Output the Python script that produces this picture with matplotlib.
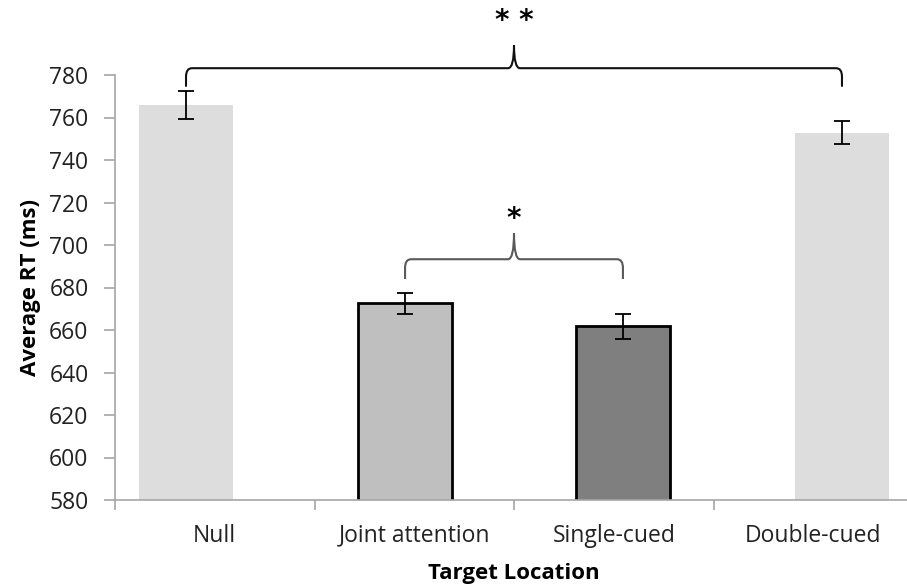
import matplotlib.pyplot as plt
import numpy as np
from matplotlib.path import Path
from matplotlib.patches import PathPatch

# Mean RT per target location, with standard error
categories = ['Null', 'Joint attention', 'Single-cued', 'Double-cued']
mean_rt = [766, 672.5, 661.8, 752.8]
sem_rt = [6.5, 5.0, 5.8, 5.5]
bar_colors = ['#dddddd', '#bfbfbf', '#7f7f7f', '#dddddd']
bar_edges = ['none', 'black', 'black', 'none']
bar_offsets = [-0.144, -0.046, 0.046, 0.144]   # bars sit slightly off-centre

plt.rcParams['font.family'] = ['Open Sans', 'DejaVu Sans']

fig = plt.figure(figsize=(9.07, 5.86), dpi=100)
ax = fig.add_axes([115 / 907, 86 / 586, 798 / 907, 425 / 586])

x = np.arange(len(categories)) + np.array(bar_offsets)
ax.bar(x, mean_rt, width=0.475, color=bar_colors, edgecolor=bar_edges,
       linewidth=2, bottom=0, zorder=2)
ax.errorbar(x, mean_rt, yerr=sem_rt, fmt='none', ecolor='black',
            elinewidth=1.3, capsize=6, capthick=1.3, zorder=3)

ax.set_xlim(-0.5, 3.5)
ax.set_ylim(580, 780)
ax.set_yticks(np.arange(580, 781, 20))
ax.set_xticks(np.arange(len(categories)))
ax.set_xticklabels(categories)
ax.set_xticks([-0.5, 0.5, 1.5, 2.5], minor=True)

for s in ['top', 'right']:
    ax.spines[s].set_visible(False)
for s in ['left', 'bottom']:
    ax.spines[s].set_color('#a6a6a6')
    ax.spines[s].set_linewidth(1.2)

ax.tick_params(axis='y', colors='#a6a6a6', length=8, width=1.2, pad=11,
               labelcolor='#222222', labelsize=16.5)
ax.tick_params(axis='x', which='major', length=0, pad=17,
               labelcolor='#222222', labelsize=16.5)
ax.tick_params(axis='x', which='minor', colors='#a6a6a6', length=7, width=1.2)

ax.set_ylabel('Average RT (ms)', fontsize=16, fontweight='bold', labelpad=6)
ax.set_xlabel('Target Location', fontsize=16, fontweight='bold', labelpad=11)


def brace(ax, x0, x1, y, ylow, ytip, color, rx=0.03, ry=4):
    xm = (x0 + x1) / 2
    verts = [(x0, ylow), (x0, y - ry), (x0, y), (x0 + rx, y),
             (xm - rx, y), (xm, y), (xm, ytip),
             (xm, y), (xm + rx, y),
             (x1 - rx, y), (x1, y), (x1, y - ry), (x1, ylow)]
    codes = [Path.MOVETO, Path.LINETO, Path.CURVE3, Path.CURVE3,
             Path.LINETO, Path.CURVE3, Path.CURVE3,
             Path.CURVE3, Path.CURVE3,
             Path.LINETO, Path.CURVE3, Path.CURVE3, Path.LINETO]
    ax.add_patch(PathPatch(Path(verts, codes), facecolor='none',
                           edgecolor=color, linewidth=1.5, clip_on=False))


# significance braces
brace(ax, x[0], x[3], 783.2, 774.5, 794, '#111111')
ax.text((x[0] + x[3]) / 2, 805.4, '* *', ha='center', va='center',
        fontsize=20, fontweight='bold', family='DejaVu Sans', clip_on=False)
brace(ax, x[1], x[2], 693.3, 684, 705.6, '#595959')
ax.text((x[1] + x[2]) / 2, 712.2, '*', ha='center', va='center',
        fontsize=20, fontweight='bold', family='DejaVu Sans', clip_on=False)

fig.savefig('out.png', dpi=100)
